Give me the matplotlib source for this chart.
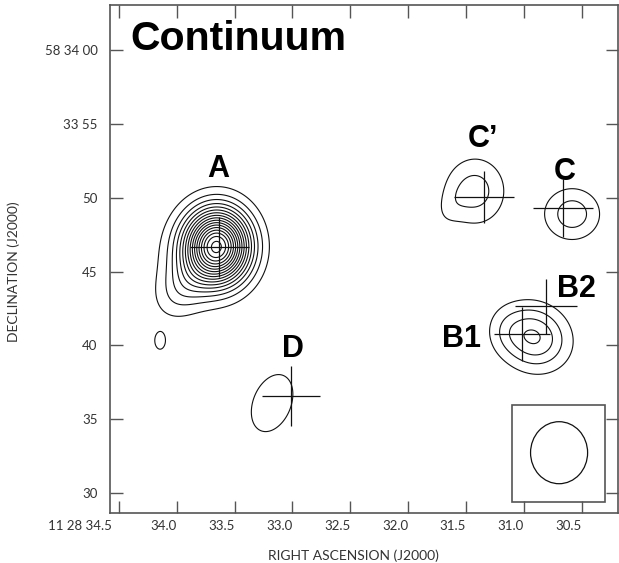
from __future__ import annotations

import matplotlib

matplotlib.use("Agg")
import matplotlib.pyplot as plt
import numpy as np
from matplotlib.patches import Ellipse, Rectangle
from matplotlib.transforms import ScaledTranslation

# sky scale: arcsec per second of RA at dec 58 34
RA_SCALE = 15.0 * np.cos(np.deg2rad(58.0 + 34.0 / 60.0))

# axis ticks (RA seconds of 11 28, Dec arcsec of 58 33)
ra_ticks = [34.5, 34.0, 33.5, 33.0, 32.5, 32.0, 31.5, 31.0, 30.5]
ra_tick_labels = ["11 28 34.5", "34.0", "33.5", "33.0", "32.5", "32.0", "31.5", "31.0", "30.5"]
dec_ticks = [30, 35, 40, 45, 50, 55, 60]
dec_tick_labels = ["30", "35", "40", "45", "50", "33 55", "58 34 00"]

# gaussian components (FWHM in arcsec, PA east of north)
comp_ra = [33.652, 33.950, 33.929, 34.145, 33.176, 31.420, 31.640, 30.581, 30.915, 31.161]
comp_dec = [46.70, 43.90, 45.44, 40.30, 36.09, 50.45, 49.30, 48.89, 40.56, 41.04]
comp_peak = [17.0, 1.9, 0.8, 1.9, 1.6, 2.45, 0.6, 2.6, 4.15, 0.6]
comp_fmaj = [4.0, 3.6, 5.0, 1.13, 4.9, 3.8, 2.6, 3.16, 3.85, 2.5]
comp_fmin = [3.5, 2.6, 4.0, 0.70, 3.1, 3.4, 1.6, 2.93, 3.4, 2.0]
comp_pa = [0.0, -35.0, 0.0, 0.0, -22.0, 0.0, -28.0, 90.0, 60.0, 0.0]

# contour levels (multiples of the noise step)
levels = list(range(1, 21))

# source positions with their error crosses
src_ra = [33.632, 33.012, 31.340, 30.657, 31.014, 30.808]
src_dec = [46.68, 36.59, 50.06, 49.32, 40.77, 42.64]
src_ra_err = [0.255, 0.25, 0.26, 0.26, 0.24, 0.27]
src_dec_err = [2.03, 2.03, 1.76, 1.96, 1.86, 1.86]

# labels
label_text = ["A", "D", "C\u2019", "C", "B1", "B2"]
label_ra = [33.644, 32.995, 31.351, 30.642, 31.537, 30.543]
label_dec = [51.40, 39.21, 53.45, 51.20, 39.91, 43.29]

# restoring beam
beam_ra, beam_dec = 30.694, 32.73
beam_maj, beam_min = 4.2, 3.86
box_ra = [31.100, 30.293]
box_dec = [29.41, 35.96]


def model_image(ra: np.ndarray, dec: np.ndarray) -> np.ndarray:
    img = np.zeros_like(ra)
    for r0, d0, peak, fmaj, fmin, pa in zip(
        comp_ra, comp_dec, comp_peak, comp_fmaj, comp_fmin, comp_pa
    ):
        x = (ra - r0) * RA_SCALE
        y = dec - d0
        t = np.deg2rad(pa)
        v = x * np.sin(t) + y * np.cos(t)
        u = x * np.cos(t) - y * np.sin(t)
        smaj = fmaj / 2.3548
        smin = fmin / 2.3548
        img += peak * np.exp(-0.5 * ((u / smin) ** 2 + (v / smaj) ** 2))
    return img


def main() -> None:
    plt.rcParams["font.family"] = ["Lato", "DejaVu Sans"]

    fig = plt.figure(figsize=(6.19, 5.63), dpi=100)
    ax = fig.add_axes([0.1777, 0.0888, 0.8202, 0.9023])

    ra = np.linspace(30.0, 34.8, 1100)
    dec = np.linspace(27.0, 65.0, 900)
    rr, dd = np.meshgrid(ra, dec)
    img = model_image(rr, dd)
    ax.contour(rr, dd, img, levels=levels, colors="#111111", linewidths=0.8)

    ax.errorbar(
        src_ra, src_dec, xerr=src_ra_err, yerr=src_dec_err,
        fmt="none", ecolor="#111111", elinewidth=0.9, capsize=0,
    )

    for text, x, y in zip(label_text, label_ra, label_dec):
        ax.text(x, y, text, ha="center", va="baseline", fontsize=22,
                fontweight="bold", family="Liberation Sans", color="black")
    ax.text(34.405, 60.0, "Continuum", ha="left", va="baseline", fontsize=29.5,
            fontweight="bold", family="Liberation Sans", color="black")

    ax.add_patch(Rectangle((box_ra[0], box_dec[0]), box_ra[1] - box_ra[0],
                           box_dec[1] - box_dec[0], fill=False,
                           edgecolor="#555555", lw=1.2))
    ax.add_patch(Ellipse((beam_ra, beam_dec), beam_min / RA_SCALE, beam_maj,
                         fill=False, edgecolor="#111111", lw=0.9))

    ax.set_xlim(34.578, 30.187)
    ax.set_ylim(28.646, 63.05)

    ax.set_xticks(ra_ticks)
    ax.set_xticklabels(ra_tick_labels, ha="right")
    ax.set_yticks(dec_ticks)
    ax.set_yticklabels(dec_tick_labels)
    ax.tick_params(direction="in", length=9, width=1.0, color="#555555",
                   labelcolor="#333333", labelsize=9.5, top=True, right=True)
    ax.tick_params(axis="y", pad=9)
    ax.tick_params(axis="x", pad=5)
    first = ax.get_xticklabels()[0]
    first.set_transform(first.get_transform()
                        + ScaledTranslation(-0.07, 0, fig.dpi_scale_trans))

    for spine in ax.spines.values():
        spine.set_color("#555555")
        spine.set_linewidth(1.2)

    ax.set_xlabel("RIGHT ASCENSION (J2000)", fontsize=10, color="#333333")
    ax.set_ylabel("DECLINATION (J2000)", fontsize=10, color="#333333")
    ax.xaxis.set_label_coords(0.48, -0.071)
    ax.yaxis.set_label_coords(-0.177, 0.476)

    fig.savefig("out.png", dpi=100)
    plt.close(fig)


if __name__ == "__main__":
    main()
